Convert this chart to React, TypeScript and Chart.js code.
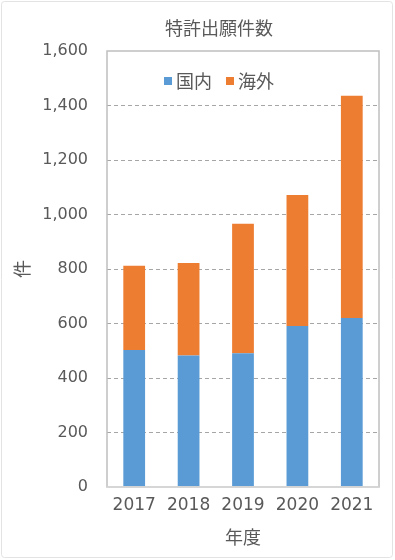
import React, { useEffect, useRef } from "react";
import { Chart, registerables } from "chart.js";

Chart.register(...registerables);

const categories = ["2017", "2018", "2019", "2020", "2021"];
const domestic = [503, 483, 491, 591, 620];
const overseas = [309, 339, 475, 481, 816];
const seriesNames = ["国内", "海外"];
const chartTitle = "特許出願件数";
const xTitle = "年度";
const yTitle = "件";
const yMax = 1600;
const yStep = 200;

const BLUE = "#5B9BD5";
const ORANGE = "#ED7D31";
const TEXT = "#595959";
const FONT = "'DejaVu Sans', 'Noto Sans CJK JP', sans-serif";
const CJK = "'Noto Sans CJK JP', sans-serif";

const framePlugin = {
  id: "frame",
  beforeDraw(chart: any) {
    const { ctx, width, height } = chart;
    ctx.save();
    ctx.fillStyle = "#ffffff";
    ctx.fillRect(0, 0, width, height);
    ctx.strokeStyle = "#e3e3e3";
    ctx.lineWidth = 1;
    ctx.beginPath();
    (ctx as any).roundRect(1.5, 1.5, width - 4, height - 4, 3);
    ctx.stroke();
    ctx.restore();
  },
  afterDatasetsDraw(chart: any) {
    const { ctx, chartArea } = chart;
    ctx.save();
    ctx.strokeStyle = "#bfbfbf";
    ctx.lineWidth = 1.5;
    ctx.strokeRect(chartArea.left, chartArea.top, chartArea.right - chartArea.left, chartArea.bottom - chartArea.top);
    ctx.strokeStyle = "#d9d9d9";
    ctx.beginPath();
    ctx.moveTo(chartArea.left, chartArea.bottom);
    ctx.lineTo(chartArea.right, chartArea.bottom);
    ctx.stroke();
    ctx.restore();
  },
  afterDraw(chart: any) {
    const { ctx, chartArea } = chart;
    const cx = 219;
    ctx.save();
    // title
    ctx.font = `18px ${CJK}`;
    ctx.fillStyle = TEXT;
    ctx.textAlign = "center";
    ctx.textBaseline = "middle";
    ctx.fillText(chartTitle, cx, 28);
    // legend
    const colors = [BLUE, ORANGE];
    ctx.textAlign = "left";
    const box = 8;
    const gapBoxText = 4;
    const gapItems = 14;
    const widths = seriesNames.map((s) => ctx.measureText(s).width);
    let total = 0;
    widths.forEach((w, i) => {
      total += box + gapBoxText + w + (i < widths.length - 1 ? gapItems : 0);
    });
    let x = cx - total / 2;
    const y = chartArea.top + 30;
    seriesNames.forEach((s, i) => {
      ctx.fillStyle = colors[i];
      ctx.fillRect(x, y - box / 2, box, box);
      x += box + gapBoxText;
      ctx.fillStyle = TEXT;
      ctx.fillText(s, x, y);
      x += widths[i] + gapItems;
    });
    ctx.restore();
  },
};

export default function App() {
  const ref = useRef<HTMLCanvasElement | null>(null);

  useEffect(() => {
    document.body.style.margin = "0";
    const canvas = ref.current;
    if (!canvas) return;
    const chart = new Chart(canvas, {
      type: "bar",
      data: {
        labels: categories,
        datasets: [
          {
            label: seriesNames[0],
            data: domestic,
            backgroundColor: BLUE,
            barPercentage: 0.4,
            categoryPercentage: 1,
          },
          {
            label: seriesNames[1],
            data: overseas,
            backgroundColor: ORANGE,
            barPercentage: 0.4,
            categoryPercentage: 1,
          },
        ],
      },
      options: {
        animation: false,
        responsive: false,
        maintainAspectRatio: false,
        layout: { padding: { left: 0, right: 16, top: 51, bottom: 0 } },
        plugins: {
          legend: { display: false },
          tooltip: { enabled: false },
          title: { display: false },
        },
        scales: {
          x: {
            stacked: true,
            afterFit: (scale: any) => {
              scale.height = 73;
            },
            grid: { display: false, drawTicks: false },
            border: { display: false },
            ticks: {
              color: TEXT,
              font: { family: FONT, size: 17 },
              padding: 8,
              maxRotation: 0,
            },
            title: {
              display: true,
              text: xTitle,
              color: TEXT,
              font: { family: CJK, size: 18 },
              padding: { top: 0, bottom: 12 },
            },
          },
          y: {
            stacked: true,
            min: 0,
            max: yMax,
            afterFit: (scale: any) => {
              scale.width = 107;
            },
            grid: {
              drawTicks: false,
              color: (c: any) =>
                c.tick && (c.tick.value === 0 || c.tick.value === yMax) ? "rgba(0,0,0,0)" : "#a6a6a6",
              lineWidth: 1,
            },
            border: { display: false, dash: [4, 3] },
            ticks: {
              stepSize: yStep,
              color: TEXT,
              font: { family: FONT, size: 16 },
              padding: 19,
              callback: (v: any) => Number(v).toLocaleString("en-US"),
            },
            title: {
              display: true,
              text: yTitle,
              color: TEXT,
              font: { family: CJK, size: 18 },
              padding: { top: 11, bottom: 0 },
            },
          },
        },
      },
      plugins: [framePlugin],
    });
    return () => chart.destroy();
  }, []);

  return (
    <div style={{ position: "fixed", left: 0, top: 0, width: 395, height: 560 }}>
      <canvas ref={ref} width={395} height={560} style={{ display: "block" }} />
    </div>
  );
}
